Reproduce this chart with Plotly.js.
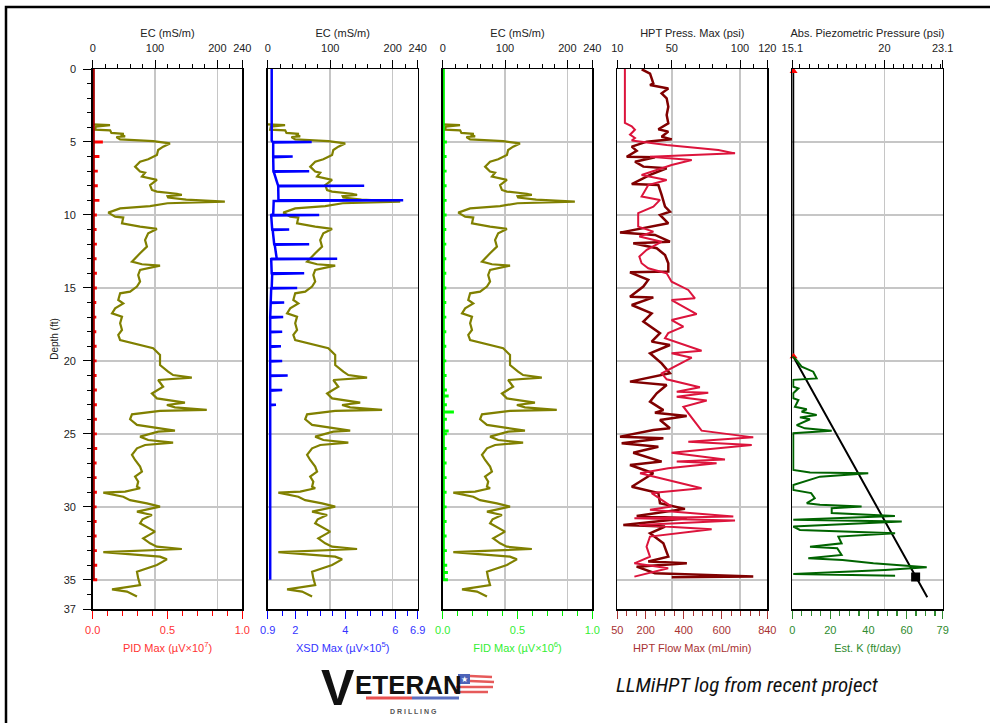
<!DOCTYPE html>
<html>
<head>
<meta charset="utf-8">
<script src="https://cdn.plot.ly/plotly-3.0.1.min.js"></script>
<style>
html,body{margin:0;padding:0;background:#fff;}
#chart{width:990px;height:723px;}
</style>
</head>
<body>
<div id="chart"></div>
<script>
// ---------------- DATA ----------------
// EC (mS/m) vs depth (ft) - shared by the three left panels
const ecDepth = [3.80,3.84,3.95,4.16,4.20,4.38,4.45,4.50,4.62,4.66,4.82,4.94,5.10,5.32,5.55,5.89,6.19,6.35,6.69,7.03,7.10,7.37,7.60,7.95,8.29,8.40,8.55,8.63,8.72,8.81,8.95,9.09,9.20,9.39,9.55,9.84,10.12,10.18,10.57,10.80,10.96,11.26,11.72,12.17,12.63,12.86,13.20,13.38,13.47,13.77,14.11,14.57,14.91,15.26,15.37,15.83,16.06,16.40,16.74,16.97,17.42,17.88,18.22,18.57,18.90,19.13,19.60,20.28,20.74,20.97,21.15,21.31,21.77,22.23,22.57,22.68,22.86,23.02,23.18,23.36,23.43,23.66,24.00,24.39,24.62,24.78,24.85,25.19,25.42,25.60,25.76,25.99,26.44,26.79,27.24,27.59,27.93,28.27,28.62,28.73,28.96,29.03,29.31,29.54,29.76,29.99,30.33,30.56,30.85,31.13,31.70,32.16,32.50,32.73,32.89,33.10,33.41,33.60,33.98,34.44,34.90,35.36,35.65,35.81,36.15];
const ecVal   = [0,27.8,5,4,28,30,50,45,52,38,44,97,124,113,105,103,89,76,68,76,84,79,103,92,95,103,135,143,120,121,150,212,120,92,44,25,36,49,47,76,103,89,84,87,76,71,63,79,108,76,73,76,71,60,44,41,49,36,31,47,44,47,41,44,73,97,108,108,121,129,159,105,113,95,103,119,148,119,132,183,108,63,60,71,103,132,105,76,89,129,84,71,63,68,76,79,68,73,71,76,52,17,49,60,87,108,71,95,80,76,100,81,92,103,143,17,108,119,103,71,73,76,31,55,71];

// PID Max (uV x 10^7): baseline and per-foot spikes
const pidBaseDepth = [0, 35];
const pidBaseVal   = [0.006, 0.006];
const pidSpikeDepth = [5,6,7,8,9,10,11,12,13,14,15,16,17,18,19,20,21,22,23,24,25,26,27,28,29,30,31,32,33,34,35];
const pidSpikeVal   = [0.068,0.045,0.034,0.034,0.045,0.028,0.026,0.028,0.026,0.028,0.028,0.024,0.024,0.024,0.026,0.026,0.026,0.028,0.028,0.028,0.028,0.03,0.026,0.026,0.028,0.026,0.026,0.026,0.028,0.03,0.03];

// XSD Max (uV x 10^5)
const xsdDepth = [0,4.90, 5.00,5.00,5.04, 6.00,6.00,6.04, 7.00,7.00,7.04, 7.90, 8.00,8.00,8.04, 9.00,9.00,9.04, 9.95, 10.00,10.00,10.04, 11.00,11.00,11.04, 12.00,12.00,12.04, 12.98, 13.00,13.00,13.04, 14.00,14.00,14.04, 15.00,15.00,15.04, 16.00,16.00,16.04, 17.00,17.00,17.04, 18.00,18.00,18.04, 19.00,19.00,19.04, 20.00,20.00,20.04, 21.00,21.00,21.04, 22.00,22.00,22.04, 23.00,23.00,23.04, 35.00];
const xsdVal   = [1.06,1.06, 1.10,2.66,1.12, 1.12,1.90,1.12, 1.13,2.56,1.14, 1.30, 1.32,4.76,1.32, 1.33,6.32,1.14, 1.12, 1.02,2.96,1.04, 1.08,1.76,1.10, 1.16,2.56,1.18, 1.26, 1.02,3.68,1.04, 1.06,2.36,1.08, 1.06,2.08,1.04, 1.02,1.56,1.02, 1.00,1.52,1.00, 1.00,1.48,1.00, 1.00,1.43,1.00, 1.00,1.48,1.00, 1.00,1.70,1.00, 1.00,1.48,1.00, 1.00,1.23,1.00, 1.00];

// FID Max (uV x 10^6)
const fidBaseDepth = [0, 35];
const fidBaseVal   = [0.006, 0.006];
const fidSpikeDepth = [5,6,7,8,9,10,11,12,13,14,15,16,17,18,19,20,21,22,22.4,23,23.5,24,24.8,25,26,27,28,29,30,31,32,33,34,34.5,35];
const fidSpikeVal   = [0.028,0.026,0.026,0.026,0.026,0.026,0.024,0.024,0.024,0.024,0.024,0.024,0.024,0.024,0.024,0.024,0.026,0.028,0.04,0.028,0.075,0.028,0.04,0.028,0.026,0.026,0.026,0.026,0.026,0.026,0.026,0.028,0.03,0.035,0.035];

// HPT Press. Max (psi)
const pressDepth = [0.02,0.31,0.64,0.98,1.10,1.33,1.67,2.01,2.58,3.15,3.72,4.13,4.29,4.64,4.82,4.98,5.32,5.60,6.01,6.05,6.35,6.69,6.80,7.26,7.88,7.95,8.63,9.43,9.77,10.00,10.57,11.21,11.37,11.83,11.94,12.28,12.74,13.31,13.88,13.93,14.45,14.91,15.60,15.65,16.17,16.74,17.31,17.65,18.10,18.68,18.91,19.48,20.17,20.85,21.42,21.65,22.22,22.79,23.37,23.55,23.77,24.05,24.62,24.73,25.19,25.30,25.65,25.88,26.29,26.90,27.13,27.70,28.62,29.06,29.75,30.14,30.62,30.78,31.24,31.35,31.81,32.50,33.41,33.75,33.87,34.10,34.55,34.78,34.83];
const pressVal   = [27.9,34,35.2,36.4,34,47.4,42.5,46.2,47.4,46.2,47.4,40.1,47.4,42.5,49.9,31.6,20.6,24.2,16.9,37.6,23,29.1,46.2,34,20.6,40.1,42.5,45,48.6,41.3,47.4,12,37.6,48.6,21.7,38.9,45,47.4,47.4,19.3,32.7,29.1,19.3,36.4,20.6,35.2,29.1,34,41.3,35.2,48.6,34,42.5,48.6,19.3,46.2,38.9,34,43.8,37.6,60.9,41.3,48.6,36.4,12,43.8,13.2,40.1,21.7,42.5,19.3,36.4,20.6,40.1,41.3,59.6,24.2,60.9,14.4,45,34,43.8,47.4,32.7,61,24.2,37.6,109.7,49.9];

// HPT Flow Max (mL/min)
const flowDepth = [0,3.70,3.93,4.16,4.50,4.73,4.90,5.20,5.55,5.78,6.01,6.24,6.58,7.26,7.60,7.95,8.74,8.97,9.43,9.88,10.80,11.14,11.48,11.83,12.39,12.85,13.31,13.65,14.00,14.57,15.14,15.71,15.83,16.17,16.79,17.20,17.65,18.10,18.45,19.30,19.48,19.78,20.85,21.26,21.81,22.11,22.18,22.45,22.72,23.14,24.78,25.24,25.54,25.77,26.29,26.75,26.90,27.02,27.36,27.70,28.16,28.73,29.06,29.98,30.20,30.66,30.78,30.93,31.24,31.54,32.04,32.73,33.41,33.87,34.21,34.78];
const flowVal   = [90,90,126,143,117,143,126,310,582,670,222,442,336,178,310,213,178,275,240,160,160,240,166,284,205,166,178,213,310,336,424,459,336,380,468,336,398,318,301,494,336,442,284,310,485,363,529,363,521,398,494,766,424,758,336,617,363,573,318,170,318,494,231,336,222,661,140,670,166,547,222,204,222,140,318,140];

// Abs. Piezometric Pressure (psi)
const piezoDepth = [0, 19.7, 36.2];
const piezoVal   = [15.15, 15.15, 22.28];
const piezoMarkDepth = [0.15, 19.7];
const piezoMarkVal   = [15.17, 15.17];
const piezoSqDepth = [34.81];
const piezoSqVal   = [21.66];

// Est. K (ft/day)
const kDepth = [19.71,19.82,20.40,20.74,21.20,21.30,21.77,21.88,22.22,22.56,22.68,23.14,23.32,23.48,23.70,23.87,24.00,24.40,24.62,24.78,24.96,27.47,27.65,27.70,27.93,28.27,28.50,28.84,29.06,29.41,29.75,29.86,29.98,30.09,30.43,30.62,30.89,31.01,31.35,31.58,31.81,32.04,32.50,32.73,32.84,33.30,33.52,33.64,33.87,34.14,34.32,34.60,34.73];
const kVal   = [0,1.4,4.9,11,12.8,0.5,0.5,3.2,0.5,0.5,3.2,1.4,7.6,4.9,12.8,4,9.3,2.3,6.6,20.7,0.5,0.5,9.3,39.9,14.5,6.6,0.5,0.5,9.9,11.8,7.6,14.5,36.4,20.7,20.7,53.9,0.5,57.5,0.5,4,54,24.2,25.9,9.3,23.6,25.9,8.4,26.4,42.6,70.6,48.7,0.5,54];

// Tick labels
const ecTicks = [0,100,200,240];
const depthTicks = [0,5,10,15,20,25,30,35,37];
const pidTicks = [0,0.5,1], pidTickText = ['0.0','0.5','1.0'];
const xsdTicks = [0.9,2,4,6,6.9], xsdTickText = ['0.9','2','4','6','6.9'];
const fidTicks = [0,0.5,1], fidTickText = ['0.0','0.5','1.0'];
const pressTicks = [10,50,100,120];
const flowTicks = [50,200,400,600,840];
const piezoTicks = [15.1,20,23.1], piezoTickText = ['15.1','20','23.1'];
const kTicks = [0,20,40,60,79];

// ---------------- LAYOUT HELPERS ----------------
const W = 990, H = 723;
const fx = p => p / W;
const fy = p => 1 - p / H;
const FONT = 'Liberation Sans, Arial, sans-serif';
const yDom = [fy(609), fy(69)];
const panels = [[92.7,242.3],[267.7,417.7],[442.7,592.3],[617.3,767.3],[792.3,942.7]];
const GRID = '#c6c6c6';

function topAxis(i, range, tickvals, ticktext, minorDtick, title, yName) {
  return {
    domain: [fx(panels[i][0]), fx(panels[i][1])], range: range, side: 'top', anchor: yName,
    tickmode: 'array', tickvals: tickvals, ticktext: ticktext,
    ticks: 'outside', ticklen: 8, tickwidth: 1, tickcolor: '#000',
    minor: {dtick: minorDtick, tick0: 0, ticks: 'outside', ticklen: 4, tickcolor: '#000', tickwidth: 1, showgrid: false},
    showline: true, linecolor: '#000', linewidth: 1.5,
    showgrid: true, gridcolor: GRID, gridwidth: 1.5, zeroline: false,
    tickfont: {family: FONT, size: 11, color: '#222'}, ticklabelstandoff: 3,
    title: {text: title, font: {family: FONT, size: 11, color: '#222'}, standoff: 2},
    fixedrange: true
  };
}
function bottomAxis(i, range, tickvals, ticktext, minor, color, tickcolor, title, yName, overlay) {
  return {
    domain: [fx(panels[i][0]), fx(panels[i][1])], range: range, side: 'bottom', anchor: yName, overlaying: overlay,
    tickmode: 'array', tickvals: tickvals, ticktext: ticktext,
    ticks: 'outside', ticklen: 8, tickwidth: 1.2, tickcolor: tickcolor,
    minor: Object.assign({ticks: 'outside', ticklen: 5, tickcolor: tickcolor, tickwidth: 1.2, showgrid: false}, minor),
    showline: true, linecolor: '#000', linewidth: 1.5,
    showgrid: false, zeroline: false,
    tickfont: {family: FONT, size: 11, color: color}, ticklabelstandoff: 2,
    title: {text: title, font: {family: FONT, size: 11, color: color}, standoff: 9},
    fixedrange: true
  };
}
function yAxis(anchor, first) {
  const a = {
    domain: yDom, range: [37, 0], anchor: anchor,
    tickmode: 'array', tickvals: depthTicks,
    showline: true, mirror: true, linecolor: '#000', linewidth: 1.5,
    showgrid: true, gridcolor: GRID, gridwidth: 1.5, zeroline: false, fixedrange: true
  };
  if (first) {
    Object.assign(a, {
      ticks: 'outside', ticklen: 8, tickcolor: '#000', tickwidth: 1,
      minor: {dtick: 1, tick0: 0, ticks: 'outside', ticklen: 4, tickcolor: '#000', tickwidth: 1, showgrid: false},
      tickfont: {family: FONT, size: 11, color: '#222'}, ticklabelstandoff: 5,
      title: {text: 'Depth (ft)', font: {family: FONT, size: 10, color: '#222'}, standoff: 3}
    });
  } else {
    Object.assign(a, {matches: 'y', showticklabels: false, ticks: ''});
  }
  return a;
}

// ---------------- TRACES ----------------
const OLIVE = '#808000';
const traces = [];
// Panel 1
traces.push({x: pidBaseVal, y: pidBaseDepth, xaxis: 'x2', yaxis: 'y', mode: 'lines', line: {color: '#a00000', width: 2.5}, hoverinfo: 'skip'});
traces.push({type: 'bar', orientation: 'h', x: pidSpikeVal, y: pidSpikeDepth, width: 0.2, xaxis: 'x2', yaxis: 'y', marker: {color: '#ff0000', line: {width: 0}}, hoverinfo: 'skip'});
traces.push({x: ecVal, y: ecDepth, xaxis: 'x', yaxis: 'y', mode: 'lines', line: {color: OLIVE, width: 2.2}, hoverinfo: 'skip'});
// Panel 2
traces.push({x: xsdVal, y: xsdDepth, xaxis: 'x4', yaxis: 'y2', mode: 'lines', line: {color: '#0000ff', width: 2.5}, hoverinfo: 'skip'});
traces.push({x: ecVal, y: ecDepth, xaxis: 'x3', yaxis: 'y2', mode: 'lines', line: {color: OLIVE, width: 2.2}, hoverinfo: 'skip'});
// Panel 3
traces.push({x: fidBaseVal, y: fidBaseDepth, xaxis: 'x6', yaxis: 'y3', mode: 'lines', line: {color: '#00ee00', width: 2.5}, hoverinfo: 'skip'});
traces.push({type: 'bar', orientation: 'h', x: fidSpikeVal, y: fidSpikeDepth, width: 0.2, xaxis: 'x6', yaxis: 'y3', marker: {color: '#00ff00', line: {width: 0}}, hoverinfo: 'skip'});
traces.push({x: ecVal, y: ecDepth, xaxis: 'x5', yaxis: 'y3', mode: 'lines', line: {color: OLIVE, width: 2.2}, hoverinfo: 'skip'});
// Panel 4
traces.push({x: flowVal, y: flowDepth, xaxis: 'x8', yaxis: 'y4', mode: 'lines', line: {color: '#dc143c', width: 2}, hoverinfo: 'skip'});
traces.push({x: pressVal, y: pressDepth, xaxis: 'x7', yaxis: 'y4', mode: 'lines', line: {color: '#800000', width: 2.5}, hoverinfo: 'skip'});
// Panel 5
traces.push({x: kVal, y: kDepth, xaxis: 'x10', yaxis: 'y5', mode: 'lines', line: {color: '#006400', width: 2}, hoverinfo: 'skip'});
traces.push({x: piezoVal, y: piezoDepth, xaxis: 'x9', yaxis: 'y5', mode: 'lines', line: {color: '#000', width: 2}, hoverinfo: 'skip'});
traces.push({x: piezoMarkVal, y: piezoMarkDepth, xaxis: 'x9', yaxis: 'y5', mode: 'markers', marker: {symbol: 'triangle-up', color: '#ff0000', size: 7}, cliponaxis: false, hoverinfo: 'skip'});
traces.push({x: piezoSqVal, y: piezoSqDepth, xaxis: 'x9', yaxis: 'y5', mode: 'markers', marker: {symbol: 'square', color: '#000', size: 9}, hoverinfo: 'skip'});

// ---------------- LAYOUT ----------------
const layout = {
  width: W, height: H, margin: {l: 0, r: 0, t: 0, b: 0},
  paper_bgcolor: '#fff', plot_bgcolor: 'rgba(0,0,0,0)',
  showlegend: false, barmode: 'overlay',
  font: {family: FONT, size: 11, color: '#222'},
  xaxis:  topAxis(0, [0,240], ecTicks, null, 20, 'EC (mS/m)', 'y'),
  xaxis2: bottomAxis(0, [0,1], pidTicks, pidTickText, {dtick: 0.1, tick0: 0}, '#ff3333', '#ff0000', 'PID Max (µV×10<sup>7</sup>)', 'y', 'x'),
  xaxis3: topAxis(1, [0,240], ecTicks, null, 20, 'EC (mS/m)', 'y2'),
  xaxis4: bottomAxis(1, [0.9,6.9], xsdTicks, xsdTickText, {tickmode: 'array', tickvals: [1.5,2.5,3,3.5,4.5,5,5.5,6.5]}, '#3333ff', '#0000ff', 'XSD Max (µV×10<sup>5</sup>)', 'y2', 'x3'),
  xaxis5: topAxis(2, [0,240], ecTicks, null, 20, 'EC (mS/m)', 'y3'),
  xaxis6: bottomAxis(2, [0,1], fidTicks, fidTickText, {dtick: 0.1, tick0: 0}, '#33ee33', '#00ee00', 'FID Max (µV×10<sup>6</sup>)', 'y3', 'x5'),
  xaxis7: topAxis(3, [10,120], pressTicks, null, 10, 'HPT Press. Max (psi)', 'y4'),
  xaxis8: bottomAxis(3, [50,840], flowTicks, null, {dtick: 50, tick0: 0}, '#a83232', '#a83232', 'HPT Flow Max (mL/min)', 'y4', 'x7'),
  xaxis9: topAxis(4, [15.1,23.1], piezoTicks, piezoTickText, 0.5, 'Abs. Piezometric Pressure (psi)', 'y5'),
  xaxis10: bottomAxis(4, [0,79], kTicks, null, {dtick: 5, tick0: 0}, '#2e8b2e', '#2e8b2e', 'Est. K (ft/day)', 'y5', 'x9'),
  yaxis:  yAxis('x', true),
  yaxis2: yAxis('x3', false),
  yaxis3: yAxis('x5', false),
  yaxis4: yAxis('x7', false),
  yaxis5: yAxis('x9', false),
  shapes: [
    // page frame
    {type: 'rect', xref: 'paper', yref: 'paper', x0: fx(6), x1: fx(1010), y0: fy(760), y1: fy(7), line: {color: '#000', width: 2.5}, layer: 'above'},
    // logo underline
    {type: 'line', xref: 'paper', yref: 'paper', x0: fx(366), x1: fx(412), y0: fy(698), y1: fy(698), line: {color: '#e8504f', width: 3}},
    {type: 'line', xref: 'paper', yref: 'paper', x0: fx(412), x1: fx(459), y0: fy(698), y1: fy(698), line: {color: '#5b6fc0', width: 3}},
    // flag
    {type: 'rect', xref: 'paper', yref: 'paper', x0: fx(458), x1: fx(470), y0: fy(684), y1: fy(674), fillcolor: '#4d63b8', line: {width: 0}},
    {type: 'line', xref: 'paper', yref: 'paper', x0: fx(470), x1: fx(492), y0: fy(676), y1: fy(677), line: {color: '#e65a5a', width: 2.5}},
    {type: 'line', xref: 'paper', yref: 'paper', x0: fx(470), x1: fx(494), y0: fy(681), y1: fy(682), line: {color: '#e65a5a', width: 2.5}},
    {type: 'line', xref: 'paper', yref: 'paper', x0: fx(456), x1: fx(493), y0: fy(687), y1: fy(687), line: {color: '#e65a5a', width: 2.5}},
    {type: 'line', xref: 'paper', yref: 'paper', x0: fx(454), x1: fx(488), y0: fy(692), y1: fy(692), line: {color: '#e65a5a', width: 2.5}}
  ],
  annotations: [
    {xref: 'paper', yref: 'paper', x: fx(338), y: fy(688), text: '<b>V</b>', showarrow: false, font: {family: FONT, size: 50, color: '#111'}, xanchor: 'center', yanchor: 'middle'},
    {xref: 'paper', yref: 'paper', x: fx(353), y: fy(685), text: '<b>ETERAN</b>', showarrow: false, font: {family: FONT, size: 26, color: '#111'}, xanchor: 'left', yanchor: 'middle'},
    {xref: 'paper', yref: 'paper', x: fx(464), y: fy(679), text: '★', showarrow: false, font: {family: 'DejaVu Sans', size: 8, color: '#fff'}, xanchor: 'center', yanchor: 'middle'},
    {xref: 'paper', yref: 'paper', x: fx(413), y: fy(711), text: '<b>D R I L L I N G</b>', showarrow: false, font: {family: FONT, size: 7, color: '#555'}, xanchor: 'center', yanchor: 'middle'},
    {xref: 'paper', yref: 'paper', x: fx(747), y: fy(685), text: '<i>LLMiHPT log from recent project</i>', showarrow: false, font: {family: 'Roboto Condensed, DejaVu Sans Condensed, Roboto, sans-serif', size: 21, color: '#111'}, xanchor: 'center', yanchor: 'middle'}
  ]
};

Plotly.newPlot('chart', traces, layout, {staticPlot: true, displayModeBar: false});
</script>
</body>
</html>
